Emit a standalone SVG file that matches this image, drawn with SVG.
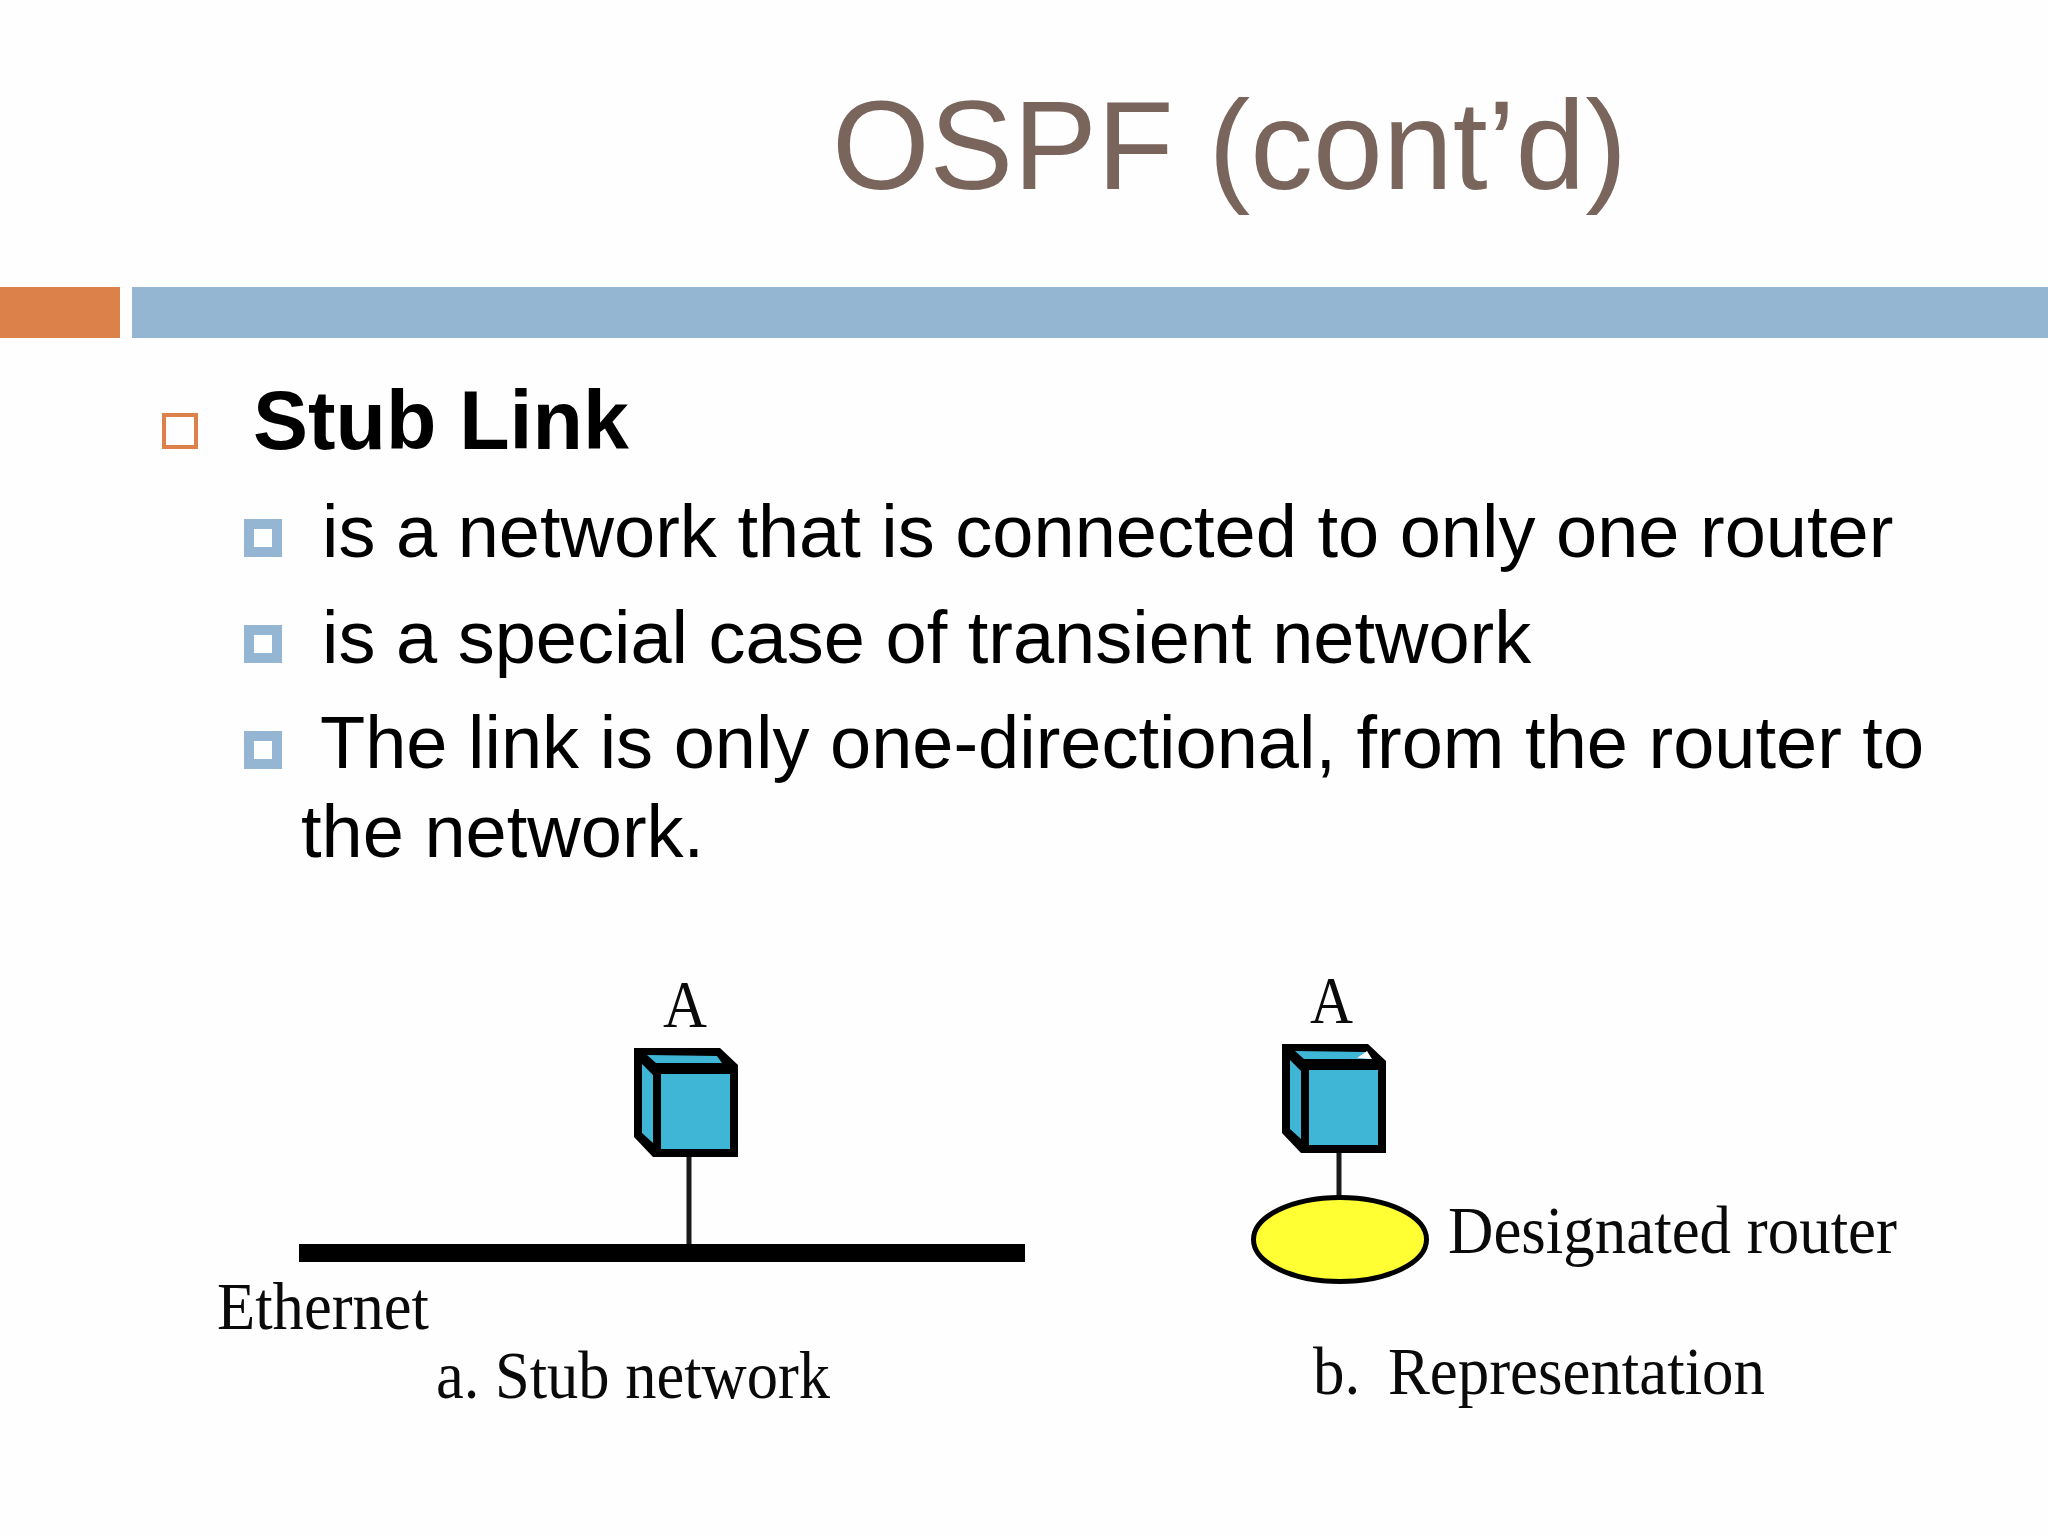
<svg xmlns="http://www.w3.org/2000/svg" width="2048" height="1536" viewBox="0 0 2048 1536">
<defs>
<style>
.sans{font-family:"Liberation Sans",Arial,sans-serif}
.serif{font-family:"Liberation Serif","Times New Roman",serif;fill:#0a0a0a}
.body{font-size:74px;fill:#000}
.lab{font-size:68px}
.blt{fill:none;stroke:#94b6d2;stroke-width:10}
.wire{stroke:#1a1a1a;stroke-width:5;fill:none}
.face{fill:#3fb6d6}
</style>
<g id="cube">
<polygon points="634,1048 720,1048 738,1065 738,1157 653,1157 634,1137" fill="#000"/>
<polygon class="face" points="647,1055 717,1056 722,1063 656,1063"/>
<polygon class="face" points="642,1064 653,1075 653,1143 642,1133"/>
<rect class="face" x="661" y="1074" width="69" height="75"/>
</g>
</defs>
<rect width="2048" height="1536" fill="#fefefe"/>
<text class="sans" x="832" y="189" font-size="125.5" fill="#7a655c">OSPF (cont’d)</text>
<rect x="0" y="287" width="120" height="51" fill="#dc8149"/>
<rect x="132" y="287" width="1916" height="51" fill="#94b6d2"/>
<rect x="164" y="415" width="32" height="32" fill="none" stroke="#dc8149" stroke-width="4"/>
<text class="sans" x="253" y="449" font-size="82.5" font-weight="700" fill="#000">Stub Link</text>
<rect class="blt" x="249" y="524" width="28" height="28"/>
<text class="sans body" x="322" y="557">is a network that is connected to only one router</text>
<rect class="blt" x="249" y="630" width="28" height="28"/>
<text class="sans body" x="322" y="663">is a special case of transient network</text>
<rect class="blt" x="249" y="736" width="28" height="28"/>
<text class="sans body" x="320" y="768">The link is only one-directional, from the router to</text>
<text class="sans body" x="301" y="857">the network.</text>
<g id="connectors">
<line class="wire" x1="689" y1="1155" x2="689" y2="1246"/>
<line class="wire" x1="1339" y1="1151" x2="1339" y2="1198"/>
</g>
<g id="router-a-stub">
<use href="#cube"/>
<text class="serif lab" x="663" y="1027" textLength="44" lengthAdjust="spacingAndGlyphs">A</text>
</g>
<g id="ethernet">
<rect x="299" y="1244" width="726" height="18" fill="#000"/>
<text class="serif lab" x="217" y="1329" textLength="212" lengthAdjust="spacingAndGlyphs">Ethernet</text>
</g>
<g id="router-a-repr">
<use href="#cube" transform="translate(648,-4)"/>
<polygon points="1357,1058 1367,1051 1372,1059" fill="#fff"/>
<text class="serif lab" x="1310" y="1023" textLength="43" lengthAdjust="spacingAndGlyphs">A</text>
</g>
<g id="designated-router">
<ellipse cx="1340" cy="1239.500" rx="86.500" ry="42" fill="#ffff33" stroke="#000" stroke-width="5"/>
<text class="serif lab" x="1448" y="1253" textLength="449" lengthAdjust="spacingAndGlyphs">Designated router</text>
</g>
<text class="serif lab" x="436" y="1398" textLength="394" lengthAdjust="spacingAndGlyphs">a. Stub network</text>
<text class="serif lab" x="1313" y="1394" textLength="452" lengthAdjust="spacingAndGlyphs" word-spacing="-2" xml:space="preserve">b.  Representation</text>
</svg>
